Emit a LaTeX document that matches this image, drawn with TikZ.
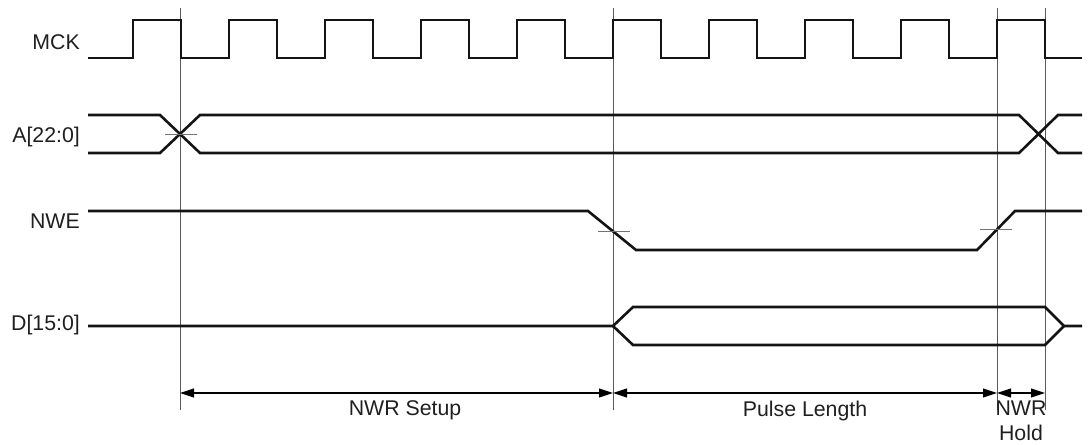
\documentclass[tikz,border=0pt]{standalone}
\usepackage{fontspec}
\setmainfont{Liberation Sans}
\usetikzlibrary{arrows.meta, positioning}

\begin{document}
\begin{tikzpicture}[
    x=1pt, y=-1pt,
    font=\fontsize{21.3}{24}\selectfont,
    sig/.style={line width=2.6pt, black!92},
    guide/.style={line width=0.9pt, black!65},
    tickst/.style={line width=0.9pt, black!55},
    lbl/.style={anchor=base east, inner sep=0pt, text=black!88},
    dim/.style={arrows={Triangle[length=14pt, width=9pt]-Triangle[length=14pt, width=9pt]},
                line width=1.1pt},
    dimlbl/.style={anchor=base, inner sep=0pt, text=black!88},
  ]
  \useasboundingbox (0,0) rectangle (1091,444);
  %% Signal names
  \node[lbl] (lblmck) at (80,50) {MCK};
  \node[lbl] (lbladdr) at (80,142) {A[22:0]};
  \node[lbl] (lblnwe) at (80,228) {NWE};
  \node[lbl] (lbldata) at (80,330) {D[15:0]};
  %% Guide lines
  \foreach \gx/\gn in {180/ga, 613/gb, 997/gc, 1045/gd} {
    \coordinate (\gn top) at (\gx,8);
    \coordinate (\gn bot) at (\gx,410);
    \draw[guide] (\gn top) -- (\gn bot);
  }
  %% MCK
  \draw[sig] (88,58) \foreach \rx in {133,229,...,997} {
      -- (\rx,58) -- (\rx,20) -- ({\rx+48},20) -- ({\rx+48},58) } -- (1082,58);
  %% A[22:0]
  \draw[sig] (88,115) -- (160,115) -- (200,153) -- (1019,153) -- (1058,115) -- (1082,115);
  \draw[sig] (88,153) -- (160,153) -- (200,115) -- (1019,115) -- (1058,153) -- (1082,153);
  \draw[tickst] (165,134) -- (197,134);
  %% NWE
  \draw[sig] (88,211) -- (588,211) -- (636,250) -- (977,250) -- (1015,211) -- (1082,211);
  \draw[tickst] (598,231) -- (630,231);
  \draw[tickst] (980,229) -- (1012,229);
  %% D[15:0]
  \draw[sig] (88,326) -- (613,326) -- (633,307) -- (1045,307) -- (1064,326) -- (1082,326);
  \draw[sig] (613,326) -- (633,345) -- (1045,345) -- (1064,326);
  %% Intervals
  \coordinate (ta) at (180,393);
  \coordinate (tb) at (613,393);
  \coordinate (tc) at (997,393);
  \coordinate (td) at (1045,393);
  \draw[dim] (ta) -- (tb);
  \draw[dim] (tb) -- (tc);
  \draw[dim] (tc) -- (td);
  \node[dimlbl] (lblsetup) at (405,415) {NWR Setup};
  \node[dimlbl] (lblpulse) at (805,416) {Pulse Length};
  \node[dimlbl] (lblhold) at (1021,415) {NWR};
  \node[dimlbl] (lblhold2) at (1021,440) {Hold};
\end{tikzpicture}
\end{document}
